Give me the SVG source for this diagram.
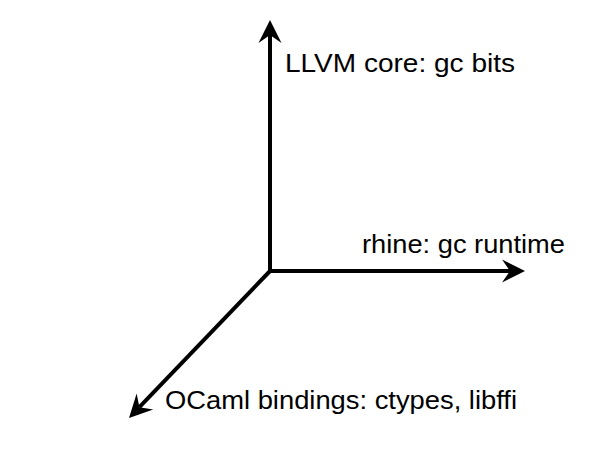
<svg xmlns="http://www.w3.org/2000/svg" width="616" height="470" viewBox="0 0 616 470">
  <defs>
    <marker id="head" markerUnits="userSpaceOnUse" markerWidth="24" markerHeight="26" refX="8" refY="12" orient="auto" overflow="visible">
      <path d="M0,0.5 L23,12 L0,23.5 L8,12 Z" fill="#000"/>
    </marker>
    <style>
      .axis { stroke: #000; stroke-width: 4; fill: none; stroke-linecap: butt; marker-end: url(#head); }
      .label { font-family: "Liberation Sans", Arial, sans-serif; font-size: 26px; fill: #000; }
    </style>
  </defs>
  <rect width="616" height="470" fill="#fff"/>
  <g id="connectors">
    <line class="axis" x1="270" y1="273" x2="270" y2="35"/>
    <line class="axis" x1="268" y1="271" x2="510" y2="271"/>
    <line class="axis" x1="271" y1="270" x2="139.4" y2="407.2"/>
  </g>
  <g id="node-llvm">
    <text class="label" x="285" y="72" textLength="230" lengthAdjust="spacingAndGlyphs">LLVM core: gc bits</text>
  </g>
  <g id="node-rhine">
    <text class="label" x="362" y="253" textLength="203" lengthAdjust="spacingAndGlyphs">rhine: gc runtime</text>
  </g>
  <g id="node-ocaml">
    <text class="label" x="165" y="409" textLength="352" lengthAdjust="spacingAndGlyphs">OCaml bindings: ctypes, libffi</text>
  </g>
</svg>
